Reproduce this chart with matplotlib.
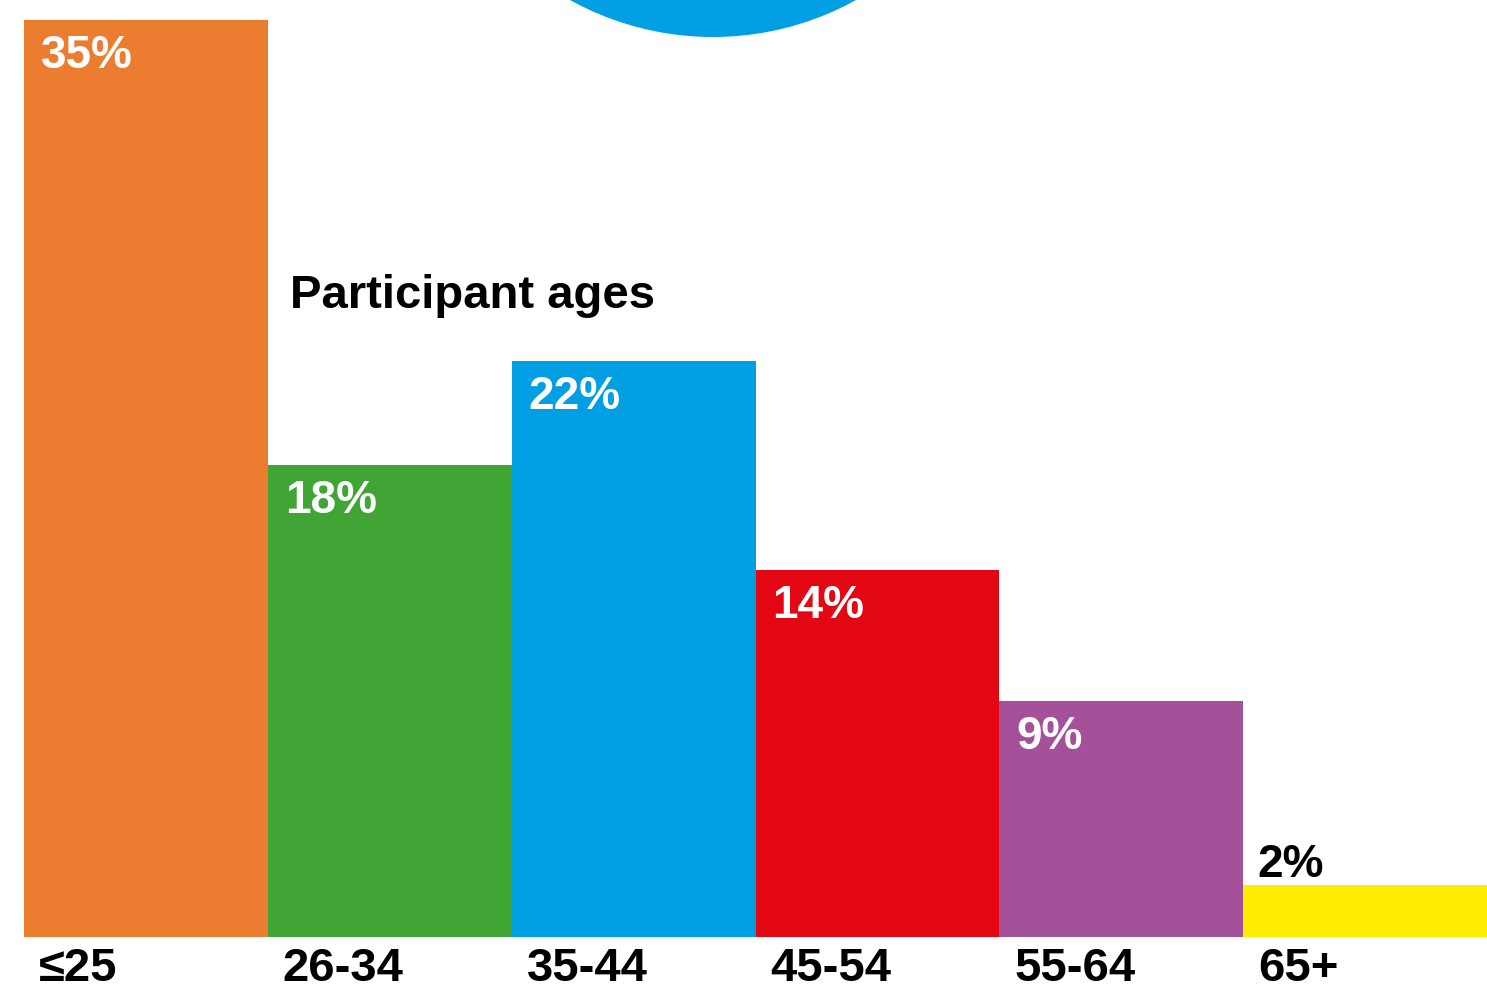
import matplotlib
matplotlib.use("Agg")
import matplotlib.pyplot as plt
from matplotlib.patches import Ellipse

# data
ages = ["≤25", "26-34", "35-44", "45-54", "55-64", "65+"]
shares = [35, 18, 22, 14, 9, 2]
colors = ["#EC7D30", "#41A535", "#009FE3", "#E30613", "#A5519A", "#FFEC00"]
label_colors = ["white", "white", "white", "white", "white", "black"]

W, H = 1487, 991
fig = plt.figure(figsize=(W / 100, H / 100), dpi=100)
fig.patch.set_facecolor("white")

# decorative blue circle peeking in at the top
r = 295
fig.patches.append(Ellipse((713 / W, 1 + 258 / H), 2 * r / W, 2 * r / H,
                           transform=fig.transFigure, facecolor="#009FE3",
                           edgecolor="none", zorder=0))

ax = fig.add_axes([24 / W, 1 - 937 / H, 1 - 24 / W, 937 / H])
ax.set_facecolor("none")
x = list(range(len(ages)))
ax.bar(x, shares, width=1.0, align="edge", color=colors, linewidth=0)
ax.set_xlim(0, len(ages))
ax.set_ylim(0, 937 / 26.2)
ax.axis("off")

pct_font = ["Liberation Sans", "DejaVu Sans"]
cond_font = ["Liberation Sans Narrow", "Liberation Sans", "DejaVu Sans"]

for i, (v, lc) in enumerate(zip(shares, label_colors)):
    if lc == "white":
        ax.annotate(f"{v}%", (i, v), xytext=(17, -14), textcoords="offset pixels",
                    ha="left", va="top", color=lc, fontsize=33,
                    fontweight="bold", family=pct_font)
    else:
        ax.annotate(f"{v}%", (i, v), xytext=(14, 8), textcoords="offset pixels",
                    ha="left", va="baseline", color=lc, fontsize=33,
                    fontweight="bold", family=pct_font)
    ax.annotate(ages[i], (i, 0), xytext=(15, -44), textcoords="offset pixels",
                ha="left", va="baseline", color="black", fontsize=34,
                fontweight="bold", family=cond_font, annotation_clip=False)

fig.text(290 / W, 1 - 308 / H, "Participant ages", ha="left", va="baseline",
         fontsize=34, fontweight="bold", family=pct_font)

fig.savefig("out.png", dpi=100, facecolor="white")
